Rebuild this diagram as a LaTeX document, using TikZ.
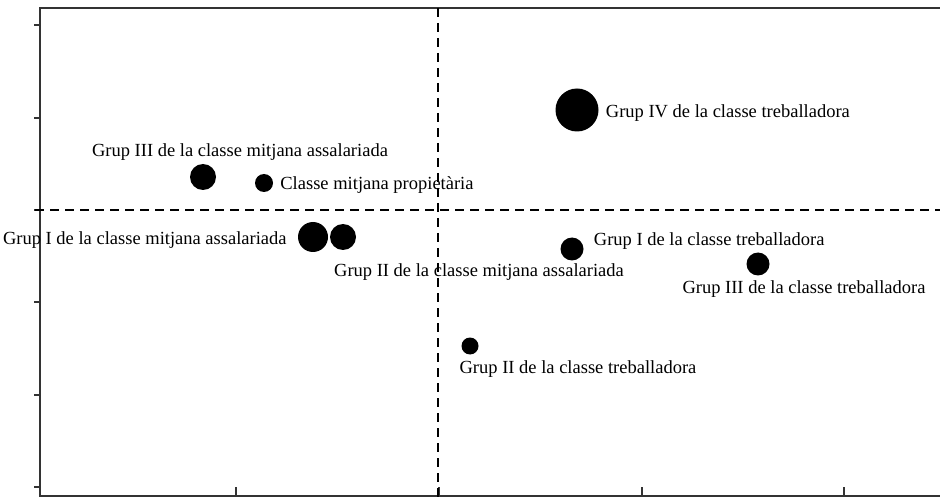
\documentclass[tikz,border=0pt]{standalone}
\usepackage{fontspec}
\setmainfont{Liberation Serif}
\usetikzlibrary{positioning}

\begin{document}
\begin{tikzpicture}[x=1pt, y=-1pt, font=\fontsize{18.5}{20}\selectfont,
  dot/.style={circle, fill=black, inner sep=0pt},
  lbl/.style={inner sep=0pt},
  axis/.style={line width=1.4pt, black!80},
  cut/.style={line width=1.3pt, dash pattern=on 9pt off 6pt}]
\useasboundingbox (0,0) rectangle (940,497);
% frame and ticks
\coordinate (TL) at (40,8);
\coordinate (TR) at (940,8);
\coordinate (BL) at (40,496);
\coordinate (BR) at (940,496);
\draw[axis] (TR) -- (TL) -- (BL) -- (BR);
\foreach \y in {25,118,210,302,395,487}
  \draw[axis] (34,\y) -- (40,\y);
\foreach \x in {236,439,642,844}
  \draw[axis] (\x,496) -- (\x,487);
% dashed cross
\coordinate (H0) at (35,210);
\coordinate (H1) at (940,210);
\coordinate (V0) at (438,8);
\coordinate (V1) at (438,497);
\draw[cut] (H0) -- (H1);
\draw[cut] (V0) -- (V1);
% points
\node[dot, minimum size=43pt] (T4) at (577,110) {};
\node[dot, minimum size=26pt] (M3) at (203,177) {};
\node[dot, minimum size=18pt] (P) at (264,183) {};
\node[dot, minimum size=30pt] (M1) at (313,237) {};
\node[dot, minimum size=26pt] (M2) at (343,237) {};
\node[dot, minimum size=23pt] (T1) at (572,249) {};
\node[dot, minimum size=23pt] (T3) at (758,264) {};
\node[dot, minimum size=17pt] (T2) at (470,346) {};
% labels
\node[lbl, right=7pt of T4, yshift=-3pt] (T4l) {Grup IV de la classe treballadora};
\node[lbl] (M3l) at (240,152) {Grup III de la classe mitjana assalariada};
\node[lbl, right=7pt of P, yshift=-2pt] (Pl) {Classe mitjana propietària};
\node[lbl, left=11pt of M1, yshift=-3pt] (M1l) {Grup I de la classe mitjana assalariada};
\node[lbl] (M2l) at (479,272) {Grup II de la classe mitjana assalariada};
\node[lbl, right=10pt of T1, yshift=8pt] (T1l) {Grup I de la classe treballadora};
\node[lbl] (T3l) at (804,289) {Grup III de la classe treballadora};
\node[lbl] (T2l) at (578,369) {Grup II de la classe treballadora};
\end{tikzpicture}
\end{document}
